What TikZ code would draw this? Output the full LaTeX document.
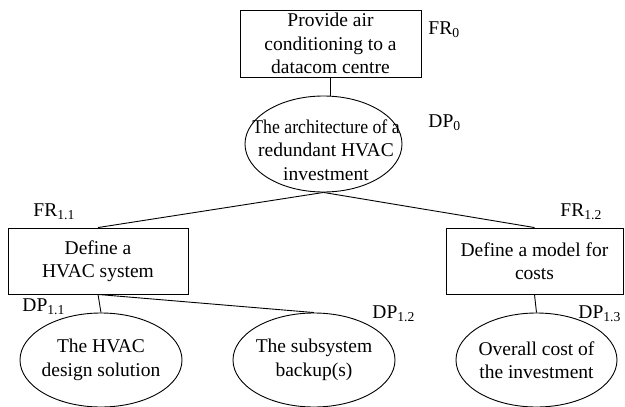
\documentclass[tikz,border=0pt]{standalone}
\usepackage{fontspec}
\setmainfont{Liberation Serif}
\usetikzlibrary{shapes.geometric}
\begin{document}
\begin{tikzpicture}[x=1pt,y=-1pt,line width=0.9pt,
  every node/.style={font=\fontsize{19.5}{23.5}\selectfont},
  frbox/.style={draw,rectangle,align=center,inner sep=0pt},
  dpell/.style={draw,ellipse,inner sep=0pt},
  dptext/.style={align=center,inner sep=0pt},
  tag/.style={anchor=west,inner sep=0pt}]
\useasboundingbox (0,0) rectangle (625,407);
\node[frbox,minimum width=181pt,minimum height=67pt] (fr0) at (330.5,43.5) {Provide air\\conditioning to a\\datacom centre};
\node[dpell,minimum width=157pt,minimum height=96pt] (dp0) at (323.5,144) {};
\node[dptext] (dp0t) at (326,150) {\scalebox{0.91}[1]{The architecture of a}\\redundant HVAC\\investment};
\node[frbox,minimum width=180pt,minimum height=66pt] (fr11) at (98,261) {Define a\\HVAC system};
\node[frbox,minimum width=177pt,minimum height=66pt] (fr12) at (534.5,261) {Define a model for\\costs};
\node[dpell,minimum width=162pt,minimum height=94pt] (dp11) at (101,360) {};
\node[dptext] (dp11t) at (dp11) {The HVAC\\design solution};
\node[dpell,minimum width=162pt,minimum height=94pt] (dp12) at (314,360) {};
\node[dptext] (dp12t) at (dp12) {The subsystem\\backup(s)};
\node[dpell,minimum width=161pt,minimum height=94pt] (dp13) at (536.5,360) {};
\node[dptext] (dp13t) at (dp13) {Overall cost of\\the investment};
\node[tag] (lfr0) at (428,30) {FR\textsubscript{0}};
\node[tag] (ldp0) at (428,123) {DP\textsubscript{0}};
\node[tag] (lfr11) at (33,212) {FR\textsubscript{1.1}};
\node[tag] (ldp11) at (22,307) {DP\textsubscript{1.1}};
\node[tag] (lfr12) at (560,212) {FR\textsubscript{1.2}};
\node[tag] (ldp12) at (372,314) {DP\textsubscript{1.2}};
\node[tag] (ldp13) at (578,314) {DP\textsubscript{1.3}};
\draw (fr0.south) -- (fr0.south |- dp0.north);
\draw (dp0.south) -- (fr11.north);
\draw (dp0.south) -- (fr12.north);
\draw (fr11.south) -- (dp11.north);
\draw (fr11.south) -- (dp12.north);
\draw (fr12.south) -- (dp13.north);
\end{tikzpicture}
\end{document}
